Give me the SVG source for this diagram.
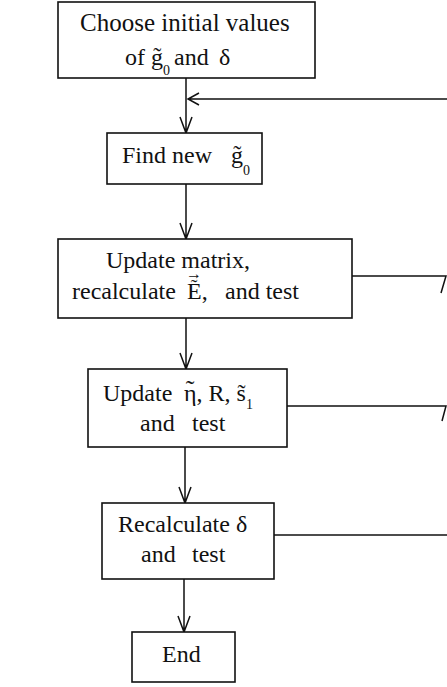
<svg xmlns="http://www.w3.org/2000/svg" width="447" height="687" viewBox="0 0 447 687">
<style>
.box{fill:#fff;stroke:#111;stroke-width:1.6}
.ln{fill:none;stroke:#111;stroke-width:1.5}
text{font-family:"Liberation Serif","Times New Roman",serif;font-size:24px;fill:#111}
.sub{font-size:14px}
.acc{font-size:26px;text-anchor:middle}
.ar{font-size:16px;text-anchor:middle}
</style>
<rect width="447" height="687" fill="#fff"/>
<g id="connectors">
<path class="ln" d="M186 78 V133 M180 117 L186 133 L192 117"/>
<path class="ln" d="M447 99 H188 M199 93 L188 99 L199 105"/>
<path class="ln" d="M186 184 V239 M180 223 L186 239 L192 223"/>
<path class="ln" d="M186 318 V369 M180 353 L186 369 L192 353"/>
<path class="ln" d="M185 447 V503 M179 487 L185 503 L191 487"/>
<path class="ln" d="M184 579 V632 M178 616 L184 632 L190 616"/>
<path class="ln" d="M352 276 H446 L441 293"/>
<path class="ln" d="M287 406 H446 L442 421"/>
<path class="ln" d="M274 535 H447"/>
</g>
<g id="n1">
<rect class="box" x="58" y="2" width="257" height="76"/>
<text x="80" y="31" style="font-size:25px">Choose initial values</text>
<text y="65"><tspan x="125">of</tspan><tspan x="151">g&#x303;</tspan><tspan class="sub" x="163" y="75">0</tspan><tspan x="174" y="65">and</tspan><tspan x="219">δ</tspan></text>
</g>
<g id="n2">
<rect class="box" x="107" y="133" width="155" height="51"/>
<text y="163"><tspan x="122">Find new</tspan><tspan x="231">g&#x303;</tspan><tspan class="sub" x="243" y="175">0</tspan></text>
</g>
<g id="n3">
<rect class="box" x="58" y="239" width="294" height="79"/>
<text x="106" y="268">Update matrix,</text>
<text y="299"><tspan x="72">recalculate</tspan><tspan x="187">E,</tspan><tspan x="225">and test</tspan></text>
<text class="ar" x="194" y="279">→</text>
<text class="acc" x="194" y="294" style="font-size:20px">˜</text>
</g>
<g id="n4">
<rect class="box" x="88" y="369" width="199" height="78"/>
<text y="401"><tspan x="103">Update</tspan><tspan x="184">η, R, s&#x303;</tspan><tspan class="sub" dy="8">1</tspan></text>
<text class="acc" x="190" y="398">˜</text>
<text y="431"><tspan x="140">and</tspan><tspan x="192">test</tspan></text>
</g>
<g id="n5">
<rect class="box" x="102" y="503" width="172" height="76"/>
<text x="118" y="532">Recalculate δ</text>
<text y="562"><tspan x="141">and</tspan><tspan x="192">test</tspan></text>
</g>
<g id="n6">
<rect class="box" x="132" y="632" width="103" height="50"/>
<text x="162" y="662">End</text>
</g>
</svg>
